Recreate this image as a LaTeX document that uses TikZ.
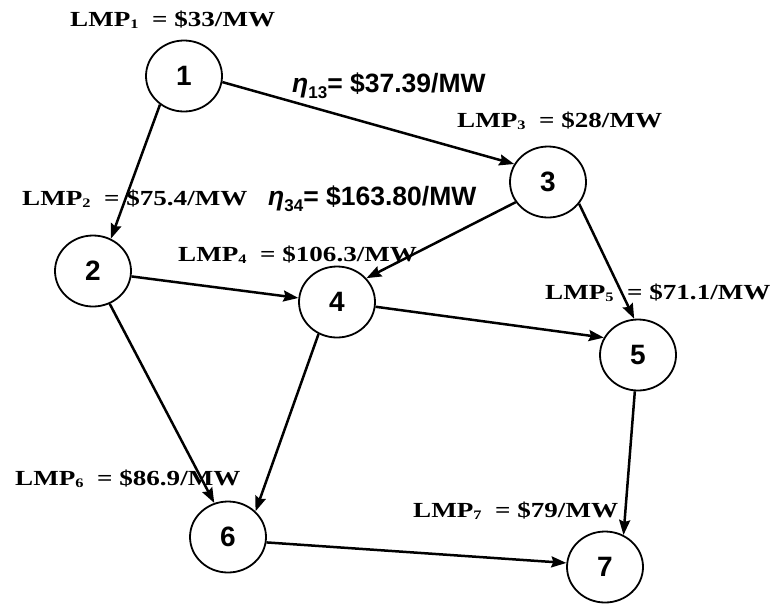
\documentclass[tikz,border=0pt]{standalone}
\usepackage{fontspec}
\usepackage{graphicx}
\setmainfont{Liberation Serif}
\newfontfamily\arialf{Liberation Sans}
\usetikzlibrary{arrows.meta,shapes.geometric}
\newcommand\lmplabel[2]{\scalebox{1.26}[1]{\fontsize{21.5}{21.5}\selectfont\bfseries LMP\raisebox{-0.12em}{\fontsize{13}{13}\selectfont #1}\ \ =\ #2}}
\newcommand\etalabel[2]{{\arialf\fontsize{26.5}{26.5}\selectfont\bfseries\itshape η\raisebox{-0.25em}{\upshape\fontsize{17}{17}\selectfont #1}\upshape= #2}}
\tikzset{
  bus/.style={ellipse, draw, line width=1.8pt, minimum width=76pt, minimum height=71pt, inner sep=0pt,
    font=\arialf\fontsize{28}{28}\selectfont\bfseries},
  flow/.style={line width=2.5pt, -{Stealth[length=15pt,width=11pt,inset=2pt]}},
  lbl/.style={inner sep=0pt, anchor=base west}
}
\begin{document}
\begin{tikzpicture}[x=1pt,y=-1pt]
\useasboundingbox (0,0) rectangle (775,603);
% buses
\node[bus] (n1) at (184,76) {1};
\node[bus] (n2) at (93,271) {2};
\node[bus] (n3) at (548,182) {3};
\node[bus] (n4) at (337,302) {4};
\node[bus] (n5) at (638,355) {5};
\node[bus] (n6) at (228,537) {6};
\node[bus] (n7) at (605,567) {7};
% labels
\node[lbl] (l1) at (70,26) {\lmplabel{1}{\$33/MW}};
\node[lbl] (e13) at (292,92) {\etalabel{13}{\$37.39/MW}};
\node[lbl] (l3) at (457,127) {\lmplabel{3}{\$28/MW}};
\node[lbl] (l2) at (22,205) {\lmplabel{2}{\$75.4/MW}};
\node[lbl] (e34) at (268,205) {\etalabel{34}{\$163.80/MW}};
\node[lbl] (l4) at (178,261) {\lmplabel{4}{\$106.3/MW}};
\node[lbl] (l5) at (545,299) {\lmplabel{5}{\$71.1/MW}};
\node[lbl] (l6) at (15,485) {\lmplabel{6}{\$86.9/MW}};
\node[lbl] (l7) at (413,517) {\lmplabel{7}{\$79/MW}};
% flows
\draw[flow] (n1.230.6) -- (n2.61);
\draw[flow] (n1.-9.5) -- (n3.152);
\draw[flow] (n3.212) -- (n4.39);
\draw[flow] (n3.-35.7) -- (n5.96);
\draw[flow] (n2.-8) -- (n4.174);
\draw[flow] (n2.-63) -- (n6.112);
\draw[flow] (n4.240) -- (n6.43);
\draw[flow] (n4.-7) -- (n5.153);
\draw[flow] (n5.265) -- (n7.60);
\draw[flow] (n6.-8.5) -- (n7.174);
\end{tikzpicture}
\end{document}
